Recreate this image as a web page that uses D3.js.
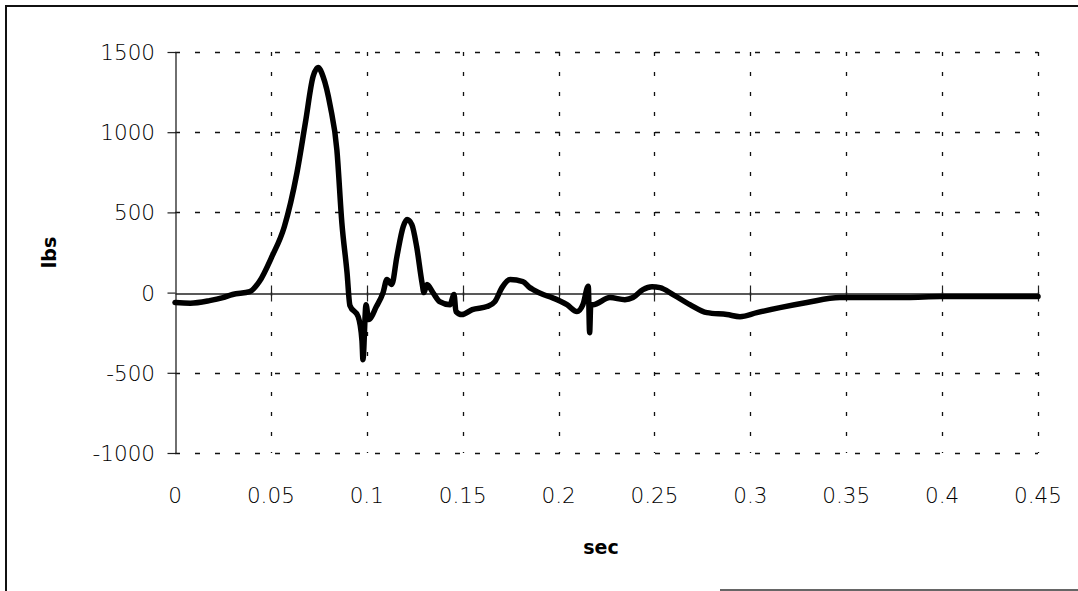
<!DOCTYPE html>
<html>
<head>
<meta charset="utf-8">
<script src="https://cdn.jsdelivr.net/npm/d3@7"></script>
<style>
  body { margin: 0; background: #fff; }
  svg { display: block; }
  .tick-label { font-family: "DejaVu Sans", sans-serif; font-weight: 200; font-size: 21.5px; fill: #000; }
  .axis-title { font-family: "DejaVu Sans", sans-serif; font-weight: bold; font-size: 19px; fill: #000; }
</style>
</head>
<body>
<script>
// tick values
const xTicks = [0, 0.05, 0.1, 0.15, 0.2, 0.25, 0.3, 0.35, 0.4, 0.45];
const yTicks = [-1000, -500, 0, 500, 1000, 1500];

// curve: time (sec) and force (lbs)
const sec = [0, 0.008, 0.018, 0.025, 0.03, 0.039, 0.044, 0.0505, 0.057, 0.0636, 0.068, 0.072, 0.0746, 0.0772, 0.081, 0.0844, 0.087, 0.0897, 0.0912, 0.0955, 0.0975, 0.098, 0.0996, 0.101, 0.105, 0.1085, 0.1105, 0.113, 0.1157, 0.119, 0.121, 0.1235, 0.126, 0.1288, 0.1298, 0.1314, 0.1345, 0.138, 0.1434, 0.1455, 0.1465, 0.1496, 0.155, 0.1627, 0.1668, 0.1705, 0.1747, 0.1814, 0.185, 0.1867, 0.192, 0.1966, 0.2044, 0.2096, 0.2127, 0.2155, 0.2162, 0.2168, 0.218, 0.2268, 0.2346, 0.2388, 0.244, 0.2487, 0.2529, 0.2597, 0.2685, 0.2774, 0.2878, 0.2946, 0.3034, 0.3154, 0.3295, 0.3467, 0.364, 0.3816, 0.3989, 0.416, 0.45];
const lbs = [-62, -66, -50, -31, -12, 6, 69, 224, 411, 748, 1060, 1347, 1403, 1347, 1160, 891, 436, 125, -80, -150, -300, -418, -75, -168, -87, 0, 81, 50, 224, 411, 455, 424, 287, 62, 0, 50, 0, -56, -75, -12, -118, -137, -106, -87, -56, 31, 81, 69, 31, 19, -12, -31, -75, -118, -75, 40, -250, -75, -75, -31, -44, -31, 19, 37, 31, -12, -75, -125, -137, -150, -125, -94, -62, -31, -31, -31, -25, -25, -25];

const data = sec.map((t, i) => ({ t: t, v: lbs[i] }));

const width = 1078;
const height = 591;

const svg = d3.select("body")
  .append("svg")
  .attr("width", width)
  .attr("height", height);

// outer frame (left, top and a bit of the bottom are visible)
svg.append("path")
  .attr("d", "M6,591 L6,6 L1078,6")
  .attr("fill", "none")
  .attr("stroke", "#111")
  .attr("stroke-width", 2);
svg.append("line")
  .attr("x1", 720).attr("x2", 1078)
  .attr("y1", 590).attr("y2", 590)
  .attr("stroke", "#333")
  .attr("stroke-width", 1.5);

const xScale = d3.scaleLinear().domain([0, 0.45]).range([175, 1038]);
const yScale = d3.scaleLinear().domain([-1000, 1500]).range([453, 52]);

// dashed grid
svg.append("g")
  .selectAll("line")
  .data(yTicks)
  .enter()
  .append("line")
  .attr("x1", xScale(0))
  .attr("x2", xScale(0.45))
  .attr("y1", (d) => Math.round(yScale(d)) + 0.5)
  .attr("y2", (d) => Math.round(yScale(d)) + 0.5)
  .attr("stroke", (d) => (d === 0 ? "none" : "#111"))
  .attr("stroke-width", 1.3)
  .attr("stroke-dasharray", "5,15");

svg.append("g")
  .selectAll("line")
  .data(xTicks.slice(1))
  .enter()
  .append("line")
  .attr("x1", (d) => Math.round(xScale(d)) + 0.5)
  .attr("x2", (d) => Math.round(xScale(d)) + 0.5)
  .attr("y1", yScale(1500))
  .attr("y2", yScale(-1000))
  .attr("stroke", "#111")
  .attr("stroke-width", 1.3)
  .attr("stroke-dasharray", "4,16");

// x axis line sits at zero, ticks cross it
const zeroY = Math.round(yScale(0)) + 0.5;
const xAxis = d3.axisBottom(xScale).tickValues(xTicks).tickSizeInner(0).tickSizeOuter(0).tickFormat("");
svg.append("g")
  .attr("transform", `translate(0,${zeroY})`)
  .call(xAxis)
  .call((g) => g.select(".domain").attr("stroke", "#222").attr("stroke-width", 1.3));
svg.append("g")
  .selectAll("line")
  .data(xTicks.slice(1))
  .enter()
  .append("line")
  .attr("x1", (d) => Math.round(xScale(d)) + 0.5)
  .attr("x2", (d) => Math.round(xScale(d)) + 0.5)
  .attr("y1", zeroY - 8)
  .attr("y2", zeroY + 8)
  .attr("stroke", "#222")
  .attr("stroke-width", 1.2);

// y axis
const yAxis = d3.axisLeft(yScale).tickValues(yTicks).tickSizeOuter(0).tickFormat("");
svg.append("g")
  .attr("transform", `translate(${Math.round(xScale(0)) + 0.5},0)`)
  .call(yAxis)
  .call((g) => g.select(".domain").attr("stroke", "#222").attr("stroke-width", 1.3))
  .call((g) => g.selectAll(".tick line").attr("x1", 0).attr("x2", -8).attr("stroke", "#222").attr("stroke-width", 1.2));

// tick labels
svg.append("g")
  .selectAll("text")
  .data(yTicks)
  .enter()
  .append("text")
  .attr("class", "tick-label")
  .attr("x", 155)
  .attr("y", (d) => yScale(d) + 8)
  .attr("text-anchor", "end")
  .text((d) => d);

svg.append("g")
  .selectAll("text")
  .data(xTicks)
  .enter()
  .append("text")
  .attr("class", "tick-label")
  .attr("x", (d) => xScale(d))
  .attr("y", 503)
  .attr("text-anchor", "middle")
  .text((d) => d);

// axis titles
svg.append("text")
  .attr("class", "axis-title")
  .attr("x", 601)
  .attr("y", 554)
  .attr("text-anchor", "middle")
  .text("sec");

svg.append("text")
  .attr("class", "axis-title")
  .attr("transform", `translate(56,${yScale(250)}) rotate(-90)`)
  .attr("text-anchor", "middle")
  .text("lbs");

// the force curve
const line = d3.line()
  .x((d) => xScale(d.t))
  .y((d) => yScale(d.v))
  .curve(d3.curveMonotoneX);

svg.append("path")
  .datum(data)
  .attr("fill", "none")
  .attr("stroke", "#000")
  .attr("stroke-width", 5.5)
  .attr("stroke-linejoin", "round")
  .attr("stroke-linecap", "round")
  .attr("d", line);
</script>
</body>
</html>
